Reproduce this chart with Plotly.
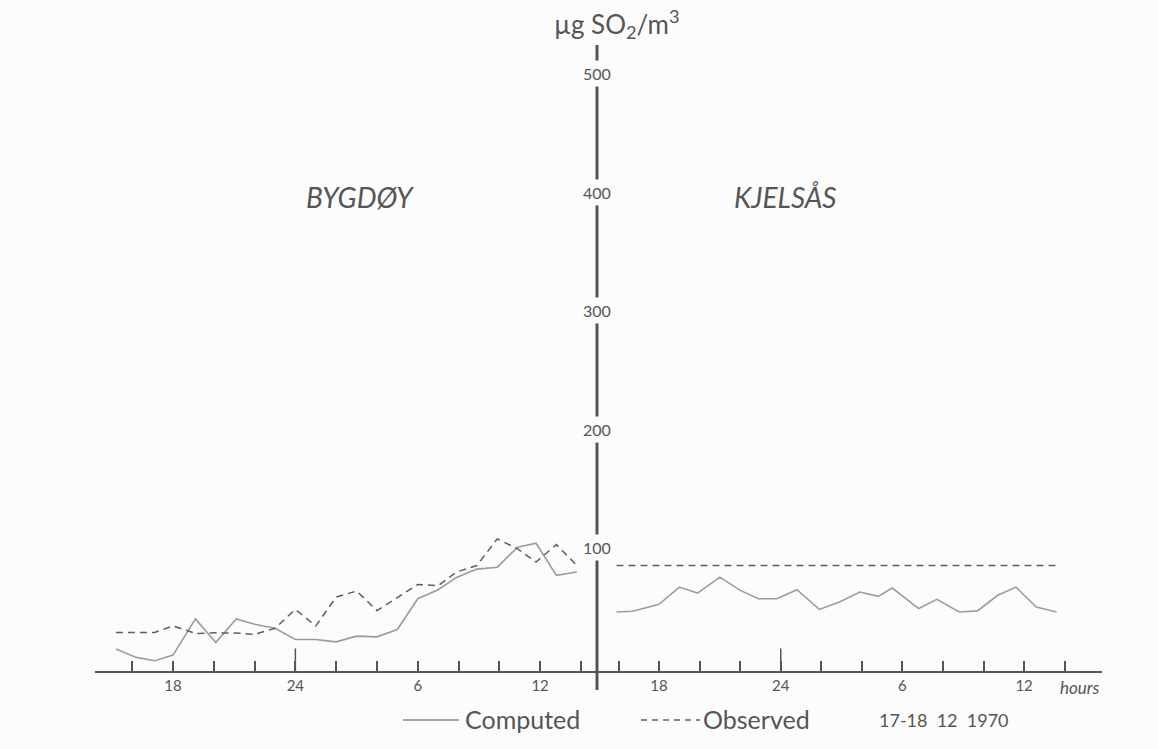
import plotly.graph_objects as go

# ---- data: SO2 concentration (µg/m3), 17-18 Dec 1970 ----
# hour of day, continuing past 24 into the next morning (30 = 06, 36 = 12)
bygdoy_hours = [15.2, 16.2, 17.1, 18, 19.1, 20.1, 21.1, 22, 23, 24, 25, 26,
                27, 28, 29, 30, 31, 31.9, 32.9, 33.9, 34.9, 35.8, 36.8, 37.8]
bygdoy_computed = [18.5, 11.5, 8.7, 13.4, 44, 24, 44, 39.5, 36, 26.6, 26.6, 24.6,
                   29.4, 28.8, 35, 61, 68.6, 79, 86, 87.6, 104.5, 107.8, 80.7, 83.5]
bygdoy_observed = [32.5, 32.2, 32.5, 38, 31.7, 32.2, 32, 31, 36, 52, 38, 62.4,
                   67.5, 51, 62, 73, 72, 83.5, 89, 111.5, 103, 92, 106.7, 89]

kjelsas_hours = [15.9, 16.7, 18, 19, 19.9, 21, 22, 22.9, 23.8, 24.8, 25.9, 26.9,
                 27.9, 28.8, 29.5, 30.8, 31.7, 32.8, 33.7, 34.7, 35.6, 36.6, 37.6]
kjelsas_computed = [49.8, 50.4, 56.3, 70.8, 65.8, 79.2, 68, 61, 61, 68.6, 52, 58.2,
                    66.6, 63, 70, 52.7, 60.5, 49.8, 50.7, 63.9, 70.8, 54, 49.8]
kjelsas_observed = [89] * len(kjelsas_hours)

label_hours = [18, 24, 30, 36]
label_text = ["18", "24", "6", "12"]
tick_hours = [16, 18, 20, 22, 24, 26, 28, 30, 32, 34, 36, 38]
y_labels = [100, 200, 300, 400, 500]

# ---- styling ----
W, H = 1158, 749
BG = "#fcfcfc"
INK = "#555555"
FONT = "Lato"
SOLID = dict(color="#9c9c9c", width=1.6)
DASHED = dict(color="#5e5e5e", width=1.5, dash="7px,5px")


def px(x):
    return x / W


def py(y):
    return 1 - y / H


fig = go.Figure()
fig.add_trace(go.Scatter(x=bygdoy_hours, y=bygdoy_computed, mode="lines",
                         line=SOLID, xaxis="x", yaxis="y", name="Computed"))
fig.add_trace(go.Scatter(x=bygdoy_hours, y=bygdoy_observed, mode="lines",
                         line=DASHED, xaxis="x", yaxis="y", name="Observed"))
fig.add_trace(go.Scatter(x=kjelsas_hours, y=kjelsas_computed, mode="lines",
                         line=SOLID, xaxis="x2", yaxis="y", name="Computed"))
fig.add_trace(go.Scatter(x=kjelsas_hours, y=kjelsas_observed, mode="lines",
                         line=DASHED, xaxis="x2", yaxis="y", name="Observed"))

axis_common = dict(
    tickmode="array", tickvals=label_hours, ticktext=label_text,
    ticks="inside", ticklen=10, tickwidth=1.5, tickcolor=INK,
    minor=dict(tickmode="array", tickvals=tick_hours, ticks="inside",
               ticklen=10, tickwidth=1.5, tickcolor=INK, showgrid=False),
    showline=True, linecolor=INK, linewidth=2,
    showgrid=False, zeroline=False,
    tickfont=dict(family=FONT, size=15, color=INK),
    anchor="y",
)
x0, xm, x1 = 95, 597, 1102
fig.update_layout(
    width=W, height=H,
    margin=dict(l=0, r=0, t=0, b=0),
    paper_bgcolor=BG, plot_bgcolor=BG,
    showlegend=False,
    xaxis=dict(domain=[px(x0), px(xm)], range=[14.175, 38.79], **axis_common),
    xaxis2=dict(domain=[px(xm), px(x1)], range=[14.94, 39.84], **axis_common),
    yaxis=dict(domain=[py(671), py(7.4)], range=[0, 560], visible=False),
)

# vertical concentration axis between the two stations
shapes = [
    dict(type="line", xref="paper", yref="paper", x0=px(xm), x1=px(xm),
         y0=py(45), y1=py(690), line=dict(color=INK, width=3)),
]
# longer tick at midnight on both panels
for xr in ["x", "x2"]:
    shapes.append(dict(type="line", xref=xr, yref="y", x0=24, x1=24, y0=0, y1=19,
                       line=dict(color=INK, width=1.5)))
# legend samples
shapes.append(dict(type="line", xref="paper", yref="paper", x0=px(403), x1=px(459),
                   y0=py(720), y1=py(720), line=dict(color="#8a8a8a", width=1.5)))
shapes.append(dict(type="line", xref="paper", yref="paper", x0=px(641), x1=px(700),
                   y0=py(720), y1=py(720), line=dict(color="#5e5e5e", width=1.5, dash="6px,5px")))
fig.update_layout(shapes=shapes)


def text(x, y, s, size, anchor="center", italic=False):
    return dict(x=px(x), y=py(y), xref="paper", yref="paper", showarrow=False,
                xanchor=anchor, yanchor="middle",
                text=f"<i>{s}</i>" if italic else s,
                font=dict(family=FONT, size=size, color=INK))


ann = []
for v in y_labels:
    ann.append(dict(x=px(xm), xref="paper", y=v, yref="y", yshift=5,
                    xanchor="center", yanchor="middle",
                    text=str(v), showarrow=False, bgcolor=BG, borderpad=3,
                    font=dict(family=FONT, size=16, color=INK)))
ann += [
    text(617, 24, "µg SO<sub>2</sub>/m<sup>3</sup>", 26),
    text(360, 197, "BYGDØY", 28, italic=True),
    text(785, 197, "KJELSÅS", 28, italic=True),
    text(1080, 687, "hours", 17, italic=True),
    text(463, 719, "Computed", 25, anchor="left"),
    text(701, 719, "Observed", 25, anchor="left"),
    text(877, 720, "17-18  12  1970", 18, anchor="left"),
]
fig.update_layout(annotations=ann)

fig.write_html("out.html")
